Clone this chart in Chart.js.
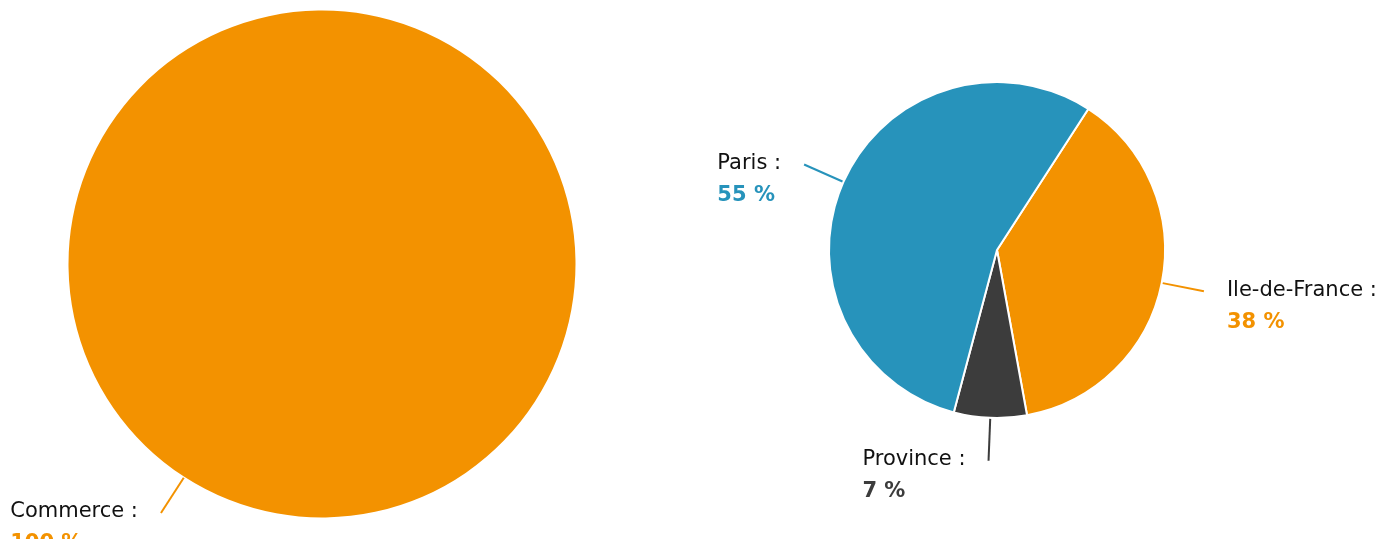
<!DOCTYPE html>
<html>
<head>
<meta charset="utf-8">
<script src="https://cdn.jsdelivr.net/npm/chart.js@4"></script>
<style>
  html, body { margin: 0; padding: 0; background: #ffffff; overflow: hidden; }
  body { width: 1391px; height: 547px; position: relative; }
  canvas { position: absolute; top: 0; }
</style>
</head>
<body>
<canvas id="left" width="644" height="539" style="left:0px;width:644px;height:539px"></canvas>
<canvas id="right" width="747" height="547" style="left:644px;width:747px;height:547px"></canvas>
<script>
// Left pie data
const leftCategories = ["Commerce"];
const leftValues = [100];
const leftColors = ["#F39200"];

// Right pie data
const rightCategories = ["Ile-de-France", "Province", "Paris"];
const rightValues = [38, 7, 55];
const rightColors = ["#F39200", "#3C3C3C", "#2793BB"];

const FONT = "'DejaVu Sans', sans-serif";

const outsideLabels = {
  id: 'outsideLabels',
  afterDatasetsDraw(chart) {
    const ctx = chart.ctx;
    const meta = chart.getDatasetMeta(0);
    const labels = chart.data.labels;
    const ds = chart.data.datasets[0];
    meta.data.forEach((arc, i) => {
      const p = arc.getProps(['x', 'y', 'startAngle', 'endAngle', 'outerRadius'], true);
      const mid = (p.startAngle + p.endAngle) / 2;
      const cx = Math.cos(mid), cy = Math.sin(mid);
      const r0 = p.outerRadius + 1, r1 = p.outerRadius + 43;
      const x0 = p.x + cx * r0, y0 = p.y + cy * r0;
      const x1 = p.x + cx * r1, y1 = p.y + cy * r1;
      const color = ds.backgroundColor[i];
      ctx.save();
      ctx.strokeStyle = color;
      ctx.lineWidth = 2;
      ctx.beginPath();
      ctx.moveTo(x0, y0);
      ctx.lineTo(x1, y1);
      ctx.stroke();
      const left = cx < 0;
      const tx = left ? x1 - 23 : x1 + 23;
      ctx.textAlign = left ? 'right' : 'left';
      ctx.textBaseline = 'middle';
      ctx.font = "21px " + FONT;
      ctx.fillStyle = '#111111';
      const line1 = labels[i] + ' :';
      ctx.fillText(line1, tx, y1 - 1);
      ctx.font = "bold 21px " + FONT;
      ctx.fillStyle = color;
      const line2 = ds.data[i] + ' %';
      if (left) {
        ctx.font = "21px " + FONT;
        const w = ctx.measureText(line1).width;
        ctx.font = "bold 21px " + FONT;
        ctx.textAlign = 'left';
        ctx.fillText(line2, tx - w, y1 + 31);
      } else {
        ctx.fillText(line2, tx, y1 + 31);
      }
      ctx.restore();
    });
  }
};

function makePie(id, labels, values, colors, radius, padding, border) {
  return new Chart(document.getElementById(id), {
    type: 'pie',
    data: {
      labels: labels,
      datasets: [{
        data: values,
        backgroundColor: colors,
        borderColor: '#ffffff',
        borderWidth: border
      }]
    },
    options: {
      responsive: false,
      animation: false,
      rotation: 32.9,
      radius: radius,
      layout: { padding: padding },
      plugins: { legend: { display: false }, tooltip: { enabled: false } }
    },
    plugins: [outsideLabels]
  });
}

makePie('left', leftCategories, leftValues, leftColors, 253.5, { left: 0, right: 0, top: 0, bottom: 11 }, 0);
makePie('right', rightCategories, rightValues, rightColors, 168, { left: 0, right: 41, top: 0, bottom: 47 }, 2);
</script>
</body>
</html>
